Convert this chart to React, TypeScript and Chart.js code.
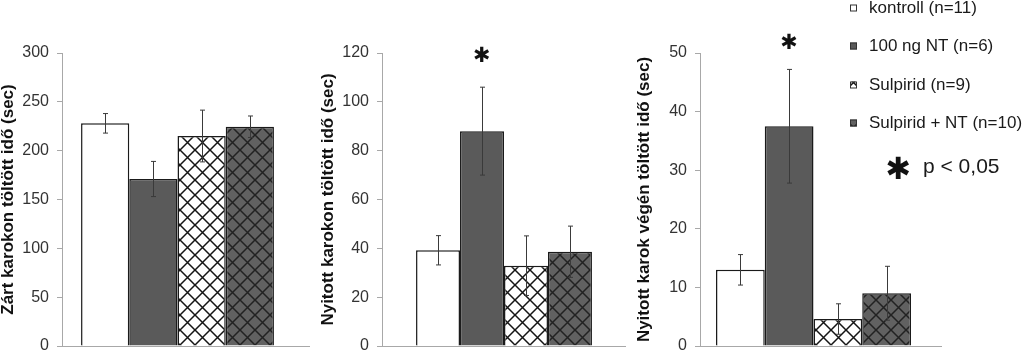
import React, { useEffect, useRef } from "react";
import { Chart, registerables } from "chart.js";

Chart.register(...registerables);

// ---------- data ----------
const groups = ["kontroll (n=11)", "100 ng NT (n=6)", "Sulpirid (n=9)", "Sulpirid + NT (n=10)"];

const closedArmMeans = [228, 171, 215, 224.5];
const closedArmErrors = [10, 18, 26.5, 11];

const openArmMeans = [39.2, 88, 32.9, 38.6];
const openArmErrors = [6, 18, 12.2, 10.5];

const armEndMeans = [13, 37.5, 4.6, 9];
const armEndErrors = [2.6, 9.7, 2.6, 4.6];

const yTitles = [
  "Zárt karokon töltött idő (sec)",
  "Nyitott karokon töltött idő (sec)",
  "Nyitott karok végén töltött idő (sec)",
];
const yMaxima = [300, 120, 50];
const yStepSizes = [50, 20, 10];

// significance star: which group and at what value height it sits
const starGroup = [-1, 1, 1];
const starValues = [0, 119.5, 52];
const significanceLabel = "p < 0,05";
const STAR = "\u2731";

// ---------- styles ----------
function lattice(bg: string, line: string, width: number): CanvasPattern | string {
  const s = 15;
  const c = document.createElement("canvas");
  c.width = s;
  c.height = s;
  const g = c.getContext("2d");
  if (!g) return bg;
  g.fillStyle = bg;
  g.fillRect(0, 0, s, s);
  g.strokeStyle = line;
  g.lineWidth = width;
  g.beginPath();
  for (const dx of [-s, 0, s]) {
    g.moveTo(dx, 0);
    g.lineTo(dx + s, s);
    g.moveTo(dx + s, 0);
    g.lineTo(dx, s);
  }
  g.stroke();
  return g.createPattern(c, "repeat") || bg;
}

function fills(): (CanvasPattern | string)[] {
  return ["#ffffff", "#5a5a5a", lattice("#ffffff", "#151515", 1.5), lattice("#616161", "#222222", 1.5)];
}

function drawStar(ctx: CanvasRenderingContext2D, cx: number, cy: number, targetW: number) {
  const family = "'DejaVu Sans'";
  ctx.save();
  ctx.font = `100px ${family}`;
  let m = ctx.measureText(STAR);
  const w0 = m.actualBoundingBoxLeft + m.actualBoundingBoxRight;
  const size = (100 * targetW) / (w0 || 30);
  ctx.font = `${size}px ${family}`;
  ctx.textAlign = "left";
  ctx.textBaseline = "alphabetic";
  m = ctx.measureText(STAR);
  const left = -m.actualBoundingBoxLeft;
  const right = m.actualBoundingBoxRight;
  const top = -m.actualBoundingBoxAscent;
  const bottom = m.actualBoundingBoxDescent;
  ctx.fillStyle = "#111111";
  ctx.fillText(STAR, cx - (left + right) / 2, cy - (top + bottom) / 2);
  ctx.restore();
}

const annotate = {
  id: "annotate",
  beforeDatasetsDraw(chart: any, _a: any, opts: any) {
    const { ctx, chartArea } = chart;
    const y0 = Math.round(chart.scales.y.getPixelForValue(0)) + 0.5;
    ctx.save();
    ctx.strokeStyle = "#a8a8a8";
    ctx.lineWidth = 1;
    ctx.beginPath();
    ctx.moveTo(chartArea.left, y0);
    ctx.lineTo(chartArea.right + (opts.extend || 0), y0);
    ctx.stroke();
    ctx.restore();
  },
  afterDatasetsDraw(chart: any, _a: any, opts: any) {
    const { ctx } = chart;
    const yScale = chart.scales.y;
    const errors: number[] = opts.errors || [];
    ctx.save();
    ctx.strokeStyle = "#3a3a3a";
    ctx.lineWidth = 1;
    chart.data.datasets.forEach((ds: any, i: number) => {
      const bar = chart.getDatasetMeta(i).data[0];
      if (!bar) return;
      const v = ds.data[0] as number;
      const e = errors[i] || 0;
      const x = Math.round(bar.x) + 0.5;
      const yt = yScale.getPixelForValue(v + e);
      const yb = yScale.getPixelForValue(v - e);
      ctx.beginPath();
      ctx.moveTo(x, yt);
      ctx.lineTo(x, yb);
      ctx.moveTo(x - 2.5, yt);
      ctx.lineTo(x + 2.5, yt);
      ctx.moveTo(x - 2.5, yb);
      ctx.lineTo(x + 2.5, yb);
      ctx.stroke();
    });
    ctx.restore();
    if (opts.starGroup >= 0) {
      const bar = chart.getDatasetMeta(opts.starGroup).data[0];
      if (bar) drawStar(ctx, bar.x, yScale.getPixelForValue(opts.starValue), 15);
    }
    if (opts.legend) {
      const rows = [8, 46, 85, 123];
      ctx.save();
      chart.data.datasets.forEach((ds: any, i: number) => {
        const cy = rows[i];
        ctx.fillStyle = ds.backgroundColor;
        ctx.fillRect(214, cy - 3.5, 7, 7);
        ctx.strokeStyle = "#333333";
        ctx.lineWidth = 1;
        ctx.strokeRect(214.5, cy - 3, 6, 6);
        ctx.fillStyle = "#1a1a1a";
        ctx.font = "17px Arial";
        ctx.textAlign = "left";
        ctx.textBaseline = "middle";
        ctx.fillText(ds.label, 233, cy);
      });
      drawStar(ctx, 262, 167, 22);
      ctx.fillStyle = "#1a1a1a";
      ctx.font = "21px Arial";
      ctx.textAlign = "left";
      ctx.textBaseline = "middle";
      ctx.fillText(significanceLabel, 287, 167);
      ctx.restore();
    }
  },
};

type Panel = {
  means: number[];
  errors: number[];
  left: number;
  width: number;
  axisW: number;
  padRight: number;
  extend: number;
  catPct: number;
  idx: number;
  legend: boolean;
};

const panels: Panel[] = [
  { means: closedArmMeans, errors: closedArmErrors, left: 0, width: 320, axisW: 62, padRight: 27, extend: 17, catPct: 0.835, idx: 0, legend: false },
  { means: openArmMeans, errors: openArmErrors, left: 320, width: 316, axisW: 62, padRight: 10, extend: 0, catPct: 0.721, idx: 1, legend: false },
  { means: armEndMeans, errors: armEndErrors, left: 636, width: 388, axisW: 64, padRight: 97, extend: 15, catPct: 0.859, idx: 2, legend: true },
];

const CANVAS_H = 370;

function PanelChart({ p }: { p: Panel }) {
  const ref = useRef<HTMLCanvasElement | null>(null);
  useEffect(() => {
    if (!ref.current) return;
    const f = fills();
    const chart = new Chart(ref.current, {
      type: "bar",
      data: {
        labels: [""],
        datasets: groups.map((g, i) => ({
          label: g,
          data: [p.means[i]],
          backgroundColor: f[i] as any,
          borderColor: "#1a1a1a",
          borderWidth: 1.5,
          categoryPercentage: p.catPct,
          barPercentage: 1,
        })),
      },
      options: {
        responsive: false,
        animation: false,
        layout: { padding: { top: 53, bottom: CANVAS_H - 346, left: 0, right: p.padRight } },
        plugins: {
          legend: { display: false },
          tooltip: { enabled: false },
          annotate: {
            errors: p.errors,
            extend: p.extend,
            starGroup: starGroup[p.idx],
            starValue: starValues[p.idx],
            legend: p.legend,
          },
        } as any,
        scales: {
          x: { display: false },
          y: {
            min: 0,
            max: yMaxima[p.idx],
            afterFit: (s: any) => {
              s.width = p.axisW;
            },
            border: { display: true, color: "#a8a8a8", width: 1 },
            grid: { display: true, drawOnChartArea: false, drawTicks: true, tickLength: 5, color: "#a8a8a8" },
            ticks: {
              stepSize: yStepSizes[p.idx],
              color: "#333333",
              padding: 8,
              font: { family: "Arial", size: 16 },
            },
            title: {
              display: true,
              text: yTitles[p.idx],
              color: "#111111",
              padding: 0,
              font: { family: "Arial", size: 17, weight: "bold", lineHeight: 1 },
            },
          },
        },
      },
      plugins: [annotate],
    });
    return () => chart.destroy();
  }, [p]);
  return (
    <canvas
      ref={ref}
      width={p.width}
      height={CANVAS_H}
      style={{ position: "absolute", left: p.left, top: 0, width: p.width, height: CANVAS_H }}
    />
  );
}

export default function App() {
  return (
    <div
      style={{
        position: "absolute",
        left: 0,
        top: 0,
        width: 1024,
        height: 352,
        overflow: "hidden",
        background: "#ffffff",
      }}
    >
      {panels.map((p) => (
        <PanelChart key={p.idx} p={p} />
      ))}
    </div>
  );
}
